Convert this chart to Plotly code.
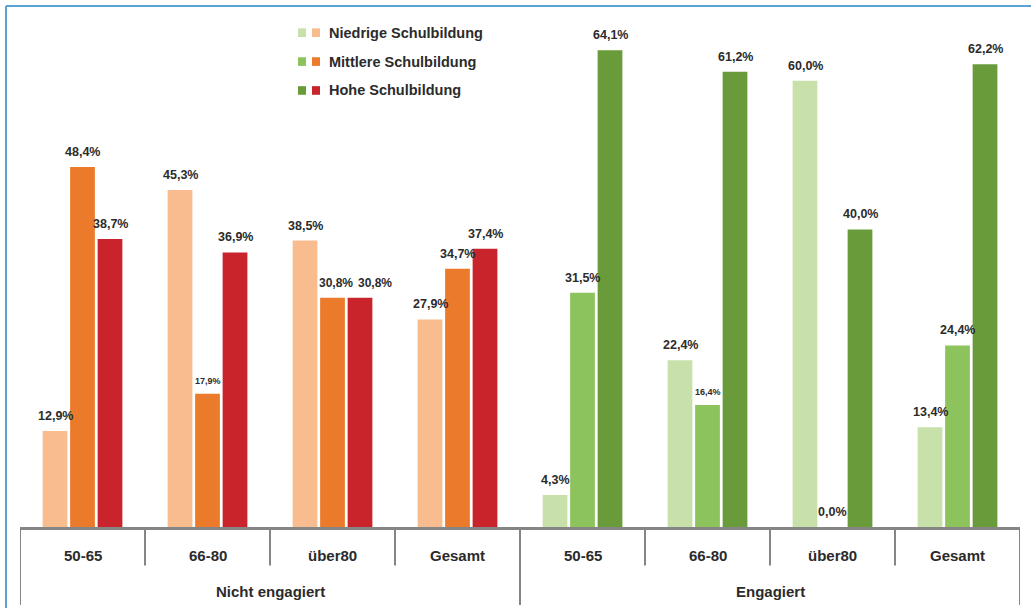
import plotly.graph_objects as go

# Age groups shown within each engagement block
age_groups = ["50-65", "66-80", "über80", "Gesamt"]
engagement = ["Nicht engagiert", "Engagiert"]

# Shares (%) per education level: first four = not engaged, last four = engaged
niedrige = [12.9, 45.3, 38.5, 27.9, 4.3, 22.4, 60.0, 13.4]
mittlere = [48.4, 17.9, 30.8, 34.7, 31.5, 16.4, 0.0, 24.4]
hohe = [38.7, 36.9, 30.8, 37.4, 64.1, 61.2, 40.0, 62.2]

series_names = ["Niedrige Schulbildung", "Mittlere Schulbildung", "Hohe Schulbildung"]

# Orange/red palette for the non-engaged block, green palette for the engaged block
orange_shades = ["#F9BC8F", "#EB7A2B", "#C9232C"]
green_shades = ["#C8E1AB", "#8DC35C", "#6A9B3A"]

n_cat = len(age_groups) * len(engagement)
x_pos = list(range(n_cat))
tick_text = age_groups * len(engagement)

FONT = "Liberation Sans, Arial, sans-serif"
TXT = "#2b2b2b"
LINE = "#858585"
BARGAP = 0.34
GROUPGAP = 0.1
n_series = len(series_names)
slot = (1 - BARGAP) / n_series


def fmt(v):
    return f"{v:.1f}".replace(".", ",") + "%"


fig = go.Figure()
annotations = []
shapes = []

for j, (name, vals) in enumerate(zip(series_names, [niedrige, mittlere, hohe])):
    colors = [orange_shades[j]] * 4 + [green_shades[j]] * 4
    fig.add_trace(go.Bar(
        x=x_pos, y=vals, name=name,
        marker=dict(color=colors, line=dict(width=0)),
        showlegend=False, hoverinfo="x+y",
    ))
    # value labels above each bar
    for k, v in enumerate(vals):
        size = 12.5
        xshift = 0
        if j == 1 and k in (1, 5):
            size = 9
        if k == 2 and j in (1, 2):
            size = 12
            xshift = 3 if j == 1 else 15
        annotations.append(dict(
            x=k + (j - (n_series - 1) / 2) * slot, y=v, xref="x", yref="y",
            yanchor="bottom", yshift=6, xshift=xshift, showarrow=False,
            text=f"<b>{fmt(v)}</b>",
            font=dict(family=FONT, size=size, color=TXT),
        ))

# Category table below the baseline
for k in range(n_cat + 1):
    xb = k - 0.5
    outer = (k % len(age_groups) == 0)
    shapes.append(dict(type="line", xref="x", yref="paper", x0=xb, x1=xb,
                       y0=0, y1=-0.154 if outer else -0.076,
                       line=dict(color=LINE, width=2)))
for k, lbl in enumerate(tick_text):
    annotations.append(dict(x=k, y=0, xref="x", yref="paper", yanchor="middle",
                            yshift=-28, text=f"<b>{lbl}</b>", showarrow=False,
                            font=dict(family=FONT, size=15, color=TXT)))
for g, lbl in enumerate(engagement):
    center = g * len(age_groups) + (len(age_groups) - 1) / 2
    annotations.append(dict(x=center, y=0, xref="x", yref="paper", yanchor="middle",
                            yshift=-64, text=f"<b>{lbl}</b>", showarrow=False,
                            font=dict(family=FONT, size=15, color=TXT)))

# Custom legend: one green and one orange swatch per education level
leg_rows = [1 - 0.025, 1 - 0.082, 1 - 0.139]
for i, name in enumerate(series_names):
    yc = leg_rows[i]
    hs = 0.0085
    shapes.append(dict(type="rect", xref="paper", yref="paper",
                       x0=0.278, x1=0.286, y0=yc - hs, y1=yc + hs,
                       fillcolor=green_shades[i], line=dict(width=0)))
    shapes.append(dict(type="rect", xref="paper", yref="paper",
                       x0=0.292, x1=0.300, y0=yc - hs, y1=yc + hs,
                       fillcolor=orange_shades[i], line=dict(width=0)))
    annotations.append(dict(x=0.307, y=yc, xref="paper", yref="paper",
                            xanchor="left", yanchor="middle",
                            text=f"<b>{name}</b>", showarrow=False,
                            font=dict(family=FONT, size=14.5, color=TXT)))

# Thin blue frame along the top and left edge
shapes.append(dict(type="line", xref="paper", yref="paper",
                   x0=-0.014, x1=1.02, y0=1.0276, y1=1.0276,
                   line=dict(color="#5AA2D2", width=2)))
shapes.append(dict(type="line", xref="paper", yref="paper",
                   x0=-0.014, x1=-0.014, y0=1.0276, y1=-0.17,
                   line=dict(color="#5AA2D2", width=2)))

fig.update_layout(
    width=1031, height=608,
    margin=dict(l=20, r=11, t=20, b=81),
    paper_bgcolor="white", plot_bgcolor="white",
    barmode="group", bargap=BARGAP, bargroupgap=GROUPGAP,
    xaxis=dict(range=[-0.5, n_cat - 0.5], showticklabels=False, ticks="",
               showgrid=False, zeroline=False,
               showline=True, linecolor=LINE, linewidth=2.5),
    yaxis=dict(range=[0, 68.15], visible=False, showgrid=False, zeroline=False),
    shapes=shapes, annotations=annotations,
    font=dict(family=FONT, color=TXT),
)

fig.write_html("out.html")
